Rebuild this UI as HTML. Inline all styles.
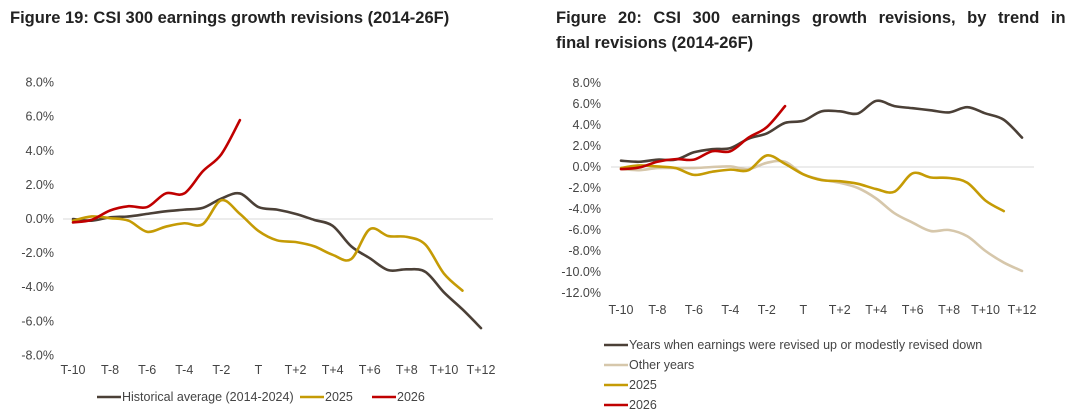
<!DOCTYPE html>
<html><head><meta charset="utf-8"><style>
body{margin:0;background:#fff;width:1080px;height:417px;overflow:hidden;font-family:"Liberation Sans",sans-serif}
.t{position:absolute;font-weight:bold;font-size:16.5px;color:#222;line-height:25px;white-space:nowrap}
svg{position:absolute;left:0;top:0}
text{font-family:"Liberation Sans",sans-serif;font-size:12.5px;fill:#444}
</style></head><body>
<div class="t" style="left:10px;top:6px">Figure 19: CSI 300 earnings growth revisions (2014-26F)</div>
<div class="t" style="left:556px;top:6px"><span style="word-spacing:7px">Figure 20: CSI 300 earnings growth revisions, by trend in</span><br>final revisions (2014-26F)</div>
<svg id="s" width="1080" height="417"></svg>
<script>
const categories=["T-10","T-9","T-8","T-7","T-6","T-5","T-4","T-3","T-2","T-1","T","T+1","T+2","T+3","T+4","T+5","T+6","T+7","T+8","T+9","T+10","T+11","T+12"];
const tickLabels=["T-10","T-8","T-6","T-4","T-2","T","T+2","T+4","T+6","T+8","T+10","T+12"];
const hist=[0.0,-0.1,0.1,0.15,0.3,0.45,0.55,0.65,1.2,1.5,0.7,0.55,0.3,-0.05,-0.4,-1.6,-2.3,-3.0,-2.95,-3.1,-4.3,-5.3,-6.4];
const y2025=[-0.1,0.15,0.05,-0.1,-0.75,-0.45,-0.25,-0.3,1.1,0.3,-0.7,-1.25,-1.35,-1.6,-2.1,-2.35,-0.6,-1.0,-1.05,-1.5,-3.2,-4.2];
const y2026=[-0.2,-0.05,0.5,0.75,0.7,1.5,1.5,2.8,3.8,5.8];
const upYears=[0.6,0.5,0.7,0.7,1.4,1.7,1.8,2.7,3.2,4.2,4.4,5.3,5.3,5.1,6.3,5.8,5.6,5.4,5.2,5.7,5.1,4.5,2.8];
const otherYears=[-0.2,-0.3,-0.1,-0.1,-0.1,0.0,0.05,-0.2,0.4,0.5,-0.7,-1.2,-1.5,-2.0,-3.0,-4.4,-5.3,-6.1,-6.0,-6.6,-8.0,-9.1,-9.9];
const leftTicks=[8,6,4,2,0,-2,-4,-6,-8];
const rightTicks=[8,6,4,2,0,-2,-4,-6,-8,-10,-12];
const S=document.getElementById('s');const NS="http://www.w3.org/2000/svg";
function mk(t,a,p){const e=document.createElementNS(NS,t);for(const k in a)e.setAttribute(k,a[k]);(p||S).appendChild(e);return e;}
function path(pts){let d="M"+pts[0][0]+","+pts[0][1];for(let i=0;i<pts.length-1;i++){const p0=pts[Math.max(0,i-1)],p1=pts[i],p2=pts[i+1],p3=pts[Math.min(pts.length-1,i+2)];d+=" C"+(p1[0]+(p2[0]-p0[0])/6)+","+(p1[1]+(p2[1]-p0[1])/6)+" "+(p2[0]-(p3[0]-p1[0])/6)+","+(p2[1]-(p3[1]-p1[1])/6)+" "+p2[0]+","+p2[1];}return d;}
function chart(cfg){
 const x=i=>cfg.x0+(cfg.x1-cfg.x0)*i/(categories.length-1);
 const y=v=>cfg.yz-v*cfg.py;
 mk('line',{x1:cfg.x0-10,x2:cfg.x1+12,y1:y(0),y2:y(0),stroke:'#d9d9d9','stroke-width':1});
 cfg.ticks.forEach(v=>{const t=mk('text',{x:cfg.lx,y:y(v)+4,'text-anchor':'end'});t.textContent=v.toFixed(1)+'%';
 
 });
 tickLabels.forEach(l=>{const i=categories.indexOf(l);const t=mk('text',{x:x(i),y:cfg.tx,'text-anchor':'middle'});t.textContent=l;
 
 });
 cfg.series.forEach(s=>{const p=mk('path',{d:path(s.v.map((v,i)=>[x(i),y(v)])),fill:'none',stroke:s.c,'stroke-width':2.6,'stroke-linecap':'round'});
 
 });
}
chart({x0:73,x1:481,yz:219,py:17.05,lx:54,tx:374,ticks:leftTicks,series:[
 {v:hist,c:'#4b4037',n:'historical-average-line'},{v:y2025,c:'#c59b05',n:'line-2025'},{v:y2026,c:'#c00000',n:'line-2026'}]});
chart({x0:621,x1:1022,yz:167,py:10.5,lx:601,tx:314,ticks:rightTicks,series:[
 {v:otherYears,c:'#d6c7ab',n:'other-years-line'},{v:upYears,c:'#4b4037',n:'up-years-line'},{v:y2025,c:'#c59b05',n:'line-2025-right'},{v:y2026,c:'#c00000',n:'line-2026-right'}]});
const leg=[[97,397,'#4b4037','Historical average (2014-2024)'],[300,397,'#c59b05','2025'],[372,397,'#c00000','2026'],
[604,345,'#4b4037','Years when earnings were revised up or modestly revised down'],[604,365,'#d6c7ab','Other years'],[604,385,'#c59b05','2025'],[604,405,'#c00000','2026']];
leg.forEach(l=>{const g=mk('g',{});
 
 
 mk('line',{x1:l[0],x2:l[0]+24,y1:l[1],y2:l[1],stroke:l[2],'stroke-width':2.6},g);
 const t=mk('text',{x:l[0]+25,y:l[1]+4},g);t.textContent=l[3];});
</script>
</body></html>
